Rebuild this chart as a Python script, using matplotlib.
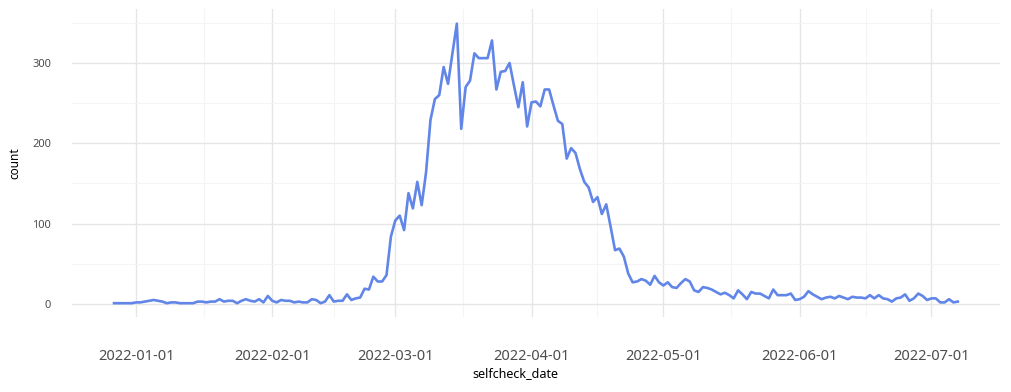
import matplotlib
matplotlib.use("Agg")
import matplotlib.pyplot as plt
import matplotlib.dates as mdates
import numpy as np
import pandas as pd

plt.rcParams['font.family'] = ['Noto Sans', 'DejaVu Sans']

start_date = "2021-12-27"
counts = [
    1, 1, 1, 1, 1, 2, 2, 3, 4, 5, 4, 3, 1, 2, 2, 1, 1, 1, 1, 3,
    3, 2, 3, 3, 6, 3, 4, 4, 1, 4, 6, 4, 3, 6, 2, 10, 4, 2, 5, 4,
    4, 2, 3, 2, 2, 6, 5, 1, 3, 11, 3, 4, 4, 12, 5, 7, 8, 19, 18, 34,
    28, 28, 36, 84, 104, 110, 92, 138, 119, 152, 123, 164, 229, 255, 260, 295, 274, 312, 349, 218,
    270, 278, 312, 306, 306, 306, 328, 267, 289, 290, 300, 272, 245, 276, 221, 251, 252, 246, 267, 267,
    247, 228, 224, 181, 194, 188, 168, 152, 145, 127, 133, 112, 124, 96, 67, 69, 59, 38, 27, 28,
    31, 29, 24, 35, 27, 23, 27, 21, 20, 26, 31, 28, 17, 15, 21, 20, 18, 15, 12, 14,
    11, 7, 17, 12, 6, 15, 13, 13, 10, 7, 18, 11, 11, 11, 13, 5, 6, 9, 16, 12,
    9, 6, 8, 9, 7, 10, 8, 6, 9, 8, 8, 7, 11, 7, 11, 7, 6, 3, 7, 8,
    12, 4, 7, 13, 10, 5, 7, 7, 2, 2, 6, 2, 3,
]
major_dates = ["2022-01-01", "2022-02-01", "2022-03-01", "2022-04-01",
               "2022-05-01", "2022-06-01", "2022-07-01"]
y_major = [0, 100, 200, 300]
y_minor = [50, 150, 250, 350]

dates = pd.date_range(start_date, periods=len(counts), freq="D")

W, H = 1011, 392
fig = plt.figure(figsize=(W / 100, H / 100), dpi=100)
left, right, top, bottom = 72, 1000, 9.3, 316.7
ax = fig.add_axes([left / W, 1 - bottom / H, (right - left) / W, (bottom - top) / H])

ax.plot(dates, counts, color="#6186e8", lw=1.9, solid_joinstyle="round", zorder=3)

x0 = mdates.date2num(dates[0]) - 9.57
x1 = mdates.date2num(dates[-1]) + 9.6
ax.set_xlim(x0, x1)
ax.set_ylim(-15.8, 366.8)

maj = mdates.date2num(pd.to_datetime(major_dates))
minor = [(a + b) / 2 for a, b in zip(maj[:-1], maj[1:])]
ax.set_xticks(maj)
ax.set_xticklabels(major_dates)
ax.set_xticks(minor, minor=True)
ax.set_yticks(y_major)
ax.set_yticks(y_minor, minor=True)

ax.grid(which="major", color="#e6e6e6", lw=1.0)
ax.grid(which="minor", color="#f4f4f4", lw=0.8)
ax.set_axisbelow(True)
for s in ax.spines.values():
    s.set_visible(False)

ax.tick_params(axis="both", which="both", length=0)
ax.tick_params(axis="y", labelsize=8, labelcolor="#4d4d4d", pad=15)
ax.tick_params(axis="x", labelsize=10.5, labelcolor="#4d4d4d", pad=23)

ax.set_ylabel("count", fontsize=8.5, color="black")
ax.yaxis.set_label_coords((15 - left) / (right - left), 0.5)
ax.set_xlabel("selfcheck_date", fontsize=9, color="black")
ax.xaxis.set_label_coords((515 - left) / (right - left), -(374 - bottom) / (bottom - top))
ax.xaxis.label.set_va("center")
ax.yaxis.label.set_va("center")

fig.savefig("out.png", dpi=100, facecolor="white")
